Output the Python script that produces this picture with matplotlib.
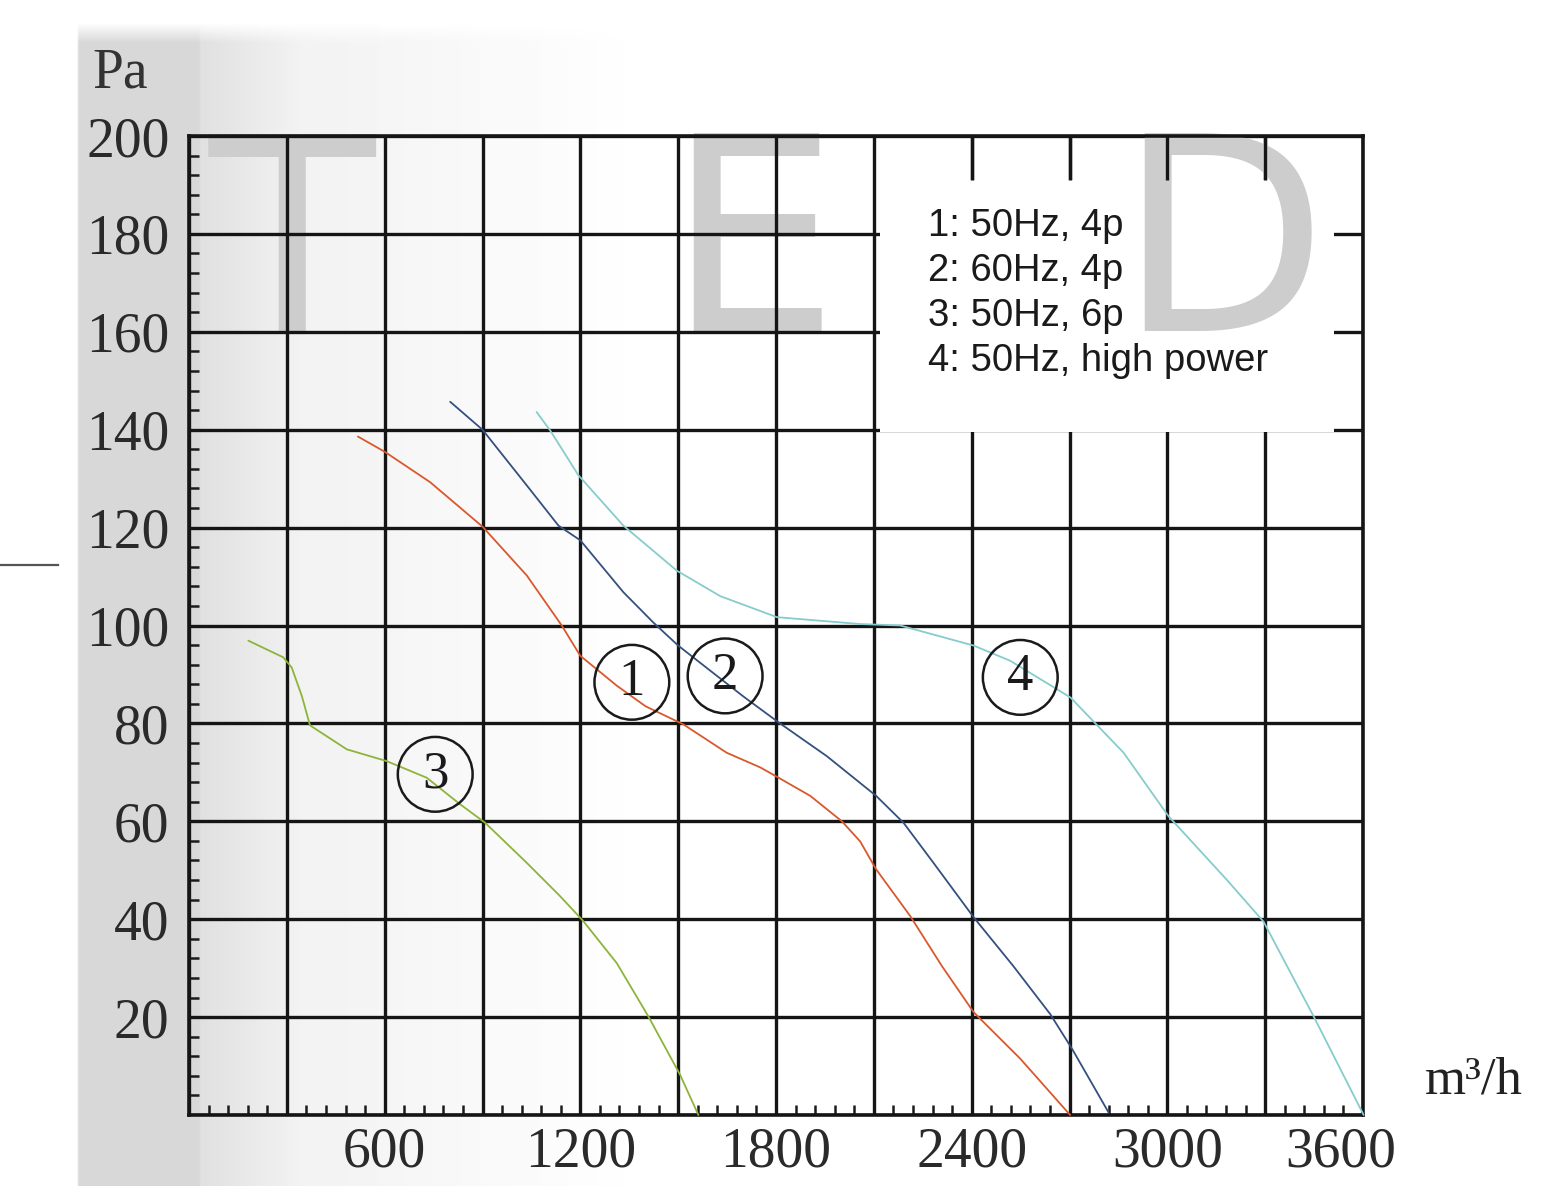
import numpy as np
import matplotlib
matplotlib.use("Agg")
import matplotlib.pyplot as plt
import matplotlib.transforms as mtransforms
from matplotlib.patches import Rectangle
from matplotlib.ticker import MultipleLocator

# ---------------- data ----------------
x_tick_labels = ["600", "1200", "1800", "2400", "3000", "3600"]
x_tick_values = [600, 1200, 1800, 2400, 3000, 3600]
y_tick_values = [20, 40, 60, 80, 100, 120, 140, 160, 180, 200]

legend_lines = ["1: 50Hz, 4p", "2: 60Hz, 4p", "3: 50Hz, 6p", "4: 50Hz, high power"]

# curve 1 : 50Hz, 4p
x1 = [518, 600, 739, 900, 1036, 1143, 1200, 1312, 1400, 1516, 1649, 1752, 1808, 1905,
      2002, 2058, 2107, 2212, 2309, 2406, 2549, 2702]
y1 = [138.6, 135.5, 129.3, 120.2, 110.2, 100.0, 93.8, 87.7, 83.5, 79.8, 74.0, 71.0, 68.9, 65.2,
      60.0, 55.9, 50.2, 40.6, 30.4, 21.0, 11.5, 0.0]
# curve 2 : 60Hz, 4p
x2 = [801, 900, 1036, 1133, 1200, 1332, 1424, 1500, 1619, 1700, 1808, 1956, 2107, 2191,
      2283, 2406, 2528, 2641, 2708, 2820]
y2 = [145.7, 140.0, 128.6, 120.4, 117.4, 106.8, 100.6, 95.9, 89.7, 85.5, 80.2, 73.3, 65.2, 59.7,
      51.5, 40.4, 30.4, 20.6, 13.5, 0.5]
# curve 3 : 50Hz, 6p
x3 = [182, 289, 315, 346, 371, 484, 606, 729, 831, 908, 1036, 1138, 1208, 1312, 1409, 1506, 1562]
y3 = [96.9, 93.5, 91.4, 85.6, 79.6, 74.7, 72.3, 68.9, 63.5, 59.7, 51.5, 44.7, 39.7, 31.0, 20.1, 8.2, 0.0]
# curve 4 : 50Hz, high power
x4 = [1066, 1107, 1194, 1332, 1496, 1629, 1803, 2058, 2181, 2406, 2518, 2703, 2866, 3004,
      3183, 3295, 3449, 3602]
y4 = [143.6, 139.9, 130.7, 120.4, 111.2, 106.0, 101.7, 100.3, 100.0, 95.9, 92.8, 85.3, 74.0, 61.0,
      48.0, 39.5, 20.1, 0.0]

curve_labels = ["1", "2", "3", "4"]
label_x = [1358, 1644, 755, 2549]
label_y = [88.4, 89.7, 69.6, 89.4]

colors = ["#d9582c", "#34507e", "#8db43a", "#86cccc"]

# ---------------- figure ----------------
W, H = 1568, 1186
fig = plt.figure(figsize=(W / 100, H / 100), dpi=100)
fig.patch.set_facecolor("white")

# scanned-paper background shading
bg = fig.add_axes([0, 0, 1, 1], zorder=-10)
xs = np.arange(0, W, 2)
ys = np.arange(0, H, 2)
gx = np.ones_like(xs, dtype=float)
gx = np.where((xs >= 78) & (xs < 200), 0.845, gx)
m = (xs >= 200) & (xs < 300)
gx[m] = 0.88 + (xs[m] - 200) / 100 * 0.07
m = (xs >= 300) & (xs < 650)
gx[m] = 0.95 + (xs[m] - 300) / 350 * 0.05
gy = np.clip((ys - 22) / 20.0, 0, 1)
img = 1 - np.outer(gy, 1 - gx)
bg.imshow(img, cmap="gray", vmin=0, vmax=1, extent=[0, W, H, 0], aspect="auto",
          interpolation="bilinear")
bg.set_xlim(0, W)
bg.set_ylim(H, 0)
bg.axis("off")
bg.plot([0, 58], [565, 565], color="#555555", lw=1.6)

# main axes
L, R, T, B = 189, 1363, 136, 1115
ax = fig.add_axes([L / W, 1 - B / H, (R - L) / W, (B - T) / H])
ax.set_facecolor("none")
ax.set_xlim(0, 3600)
ax.set_ylim(0, 200)
ax.set_axisbelow(False)

serif = ["Liberation Serif", "DejaVu Serif"]
fs = 40
grid_kw = dict(color="#151515", lw=2.4)

ax.xaxis.set_minor_locator(MultipleLocator(60))
ax.yaxis.set_minor_locator(MultipleLocator(4))
xt = np.arange(0, 3601, 300)
ax.set_xticks(xt)
ax.set_xticklabels([x_tick_labels[x_tick_values.index(v)] if v in x_tick_values else "" for v in xt],
                   fontfamily=serif, fontsize=fs, color="#2a2a2a")
yt = np.arange(0, 201, 20)
ax.set_yticks(yt)
ax.set_yticklabels([str(v) if v in y_tick_values else "" for v in yt],
                   fontfamily=serif, fontsize=fs, color="#2a2a2a")
ax.tick_params(which="major", length=0, pad=8)
ax.tick_params(axis="y", which="major", pad=14)
ax.tick_params(which="minor", direction="in", length=7, width=1.8, color="#1a1a1a")
ax.grid(True, which="major", **grid_kw)
for s in ax.spines.values():
    s.set_color("#151515")
    s.set_linewidth(2.6)
    s.set_zorder(3)

# last x label sits left of its grid line in the reference
lbl = ax.get_xticklabels()[-1]
lbl.set_transform(lbl.get_transform() + mtransforms.ScaledTranslation(-22 / 100, 0, fig.dpi_scale_trans))

# legend box (white) covering grid
box_x0, box_x1, box_y0, box_y1 = 2118, 3510, 139.6, 191
ax.add_patch(Rectangle((box_x0, box_y0), box_x1 - box_x0, box_y1 - box_y0, facecolor="white",
                       edgecolor="none", zorder=2.6))

# watermark
def px2ax(px, py):
    return ((px - L) / (R - L), (B - py) / (B - T))

for letter, cx in zip(["T", "E", "D"], [292, 752, 1222]):
    z = 2.7 if letter == "D" else 2.0
    ax.text(*px2ax(cx, 331), letter, transform=ax.transAxes, ha="center",
            va="baseline", fontsize=196, fontfamily="DejaVu Sans", color="#cdcdcd",
            zorder=z, clip_on=False)

# grid segments above the legend box drawn over the watermark
top_x = [v for v in xt if box_x0 < v < box_x1]
ax.vlines(top_x, box_y1, 200, zorder=2.8, **grid_kw)

# legend text
for i, t in enumerate(legend_lines):
    ax.text(*px2ax(928, 226 + 45 * i), t, transform=ax.transAxes, ha="left", va="center",
            fontsize=27.5, fontfamily="Liberation Sans", color="#1a1a1a", zorder=5)

# curves
for xv, yv, c in zip([x1, x2, x3, x4], [y1, y2, y3, y4], colors):
    ax.plot(xv, yv, color=c, lw=1.3, zorder=4, solid_capstyle="round", clip_on=False)

# circled labels
ax.scatter(label_x, label_y, s=2900, facecolors="none", edgecolors="#1a1a1a",
           linewidths=1.8, zorder=5)
for lx, ly, t in zip(label_x, label_y, curve_labels):
    ax.text(lx, ly, t, ha="center", va="center", fontfamily=serif, fontsize=38,
            color="#1a1a1a", zorder=6)

# axis unit labels
fig.text(92 / W, 1 - 88 / H, "Pa", ha="left", va="baseline", fontfamily=serif,
         fontsize=fs, color="#333333")
fig.text(1425 / W, 1 - 1094 / H, "m³/h", ha="left", va="baseline", fontfamily=serif,
         fontsize=fs - 2, color="#222222")

fig.savefig("out.png", dpi=100)
